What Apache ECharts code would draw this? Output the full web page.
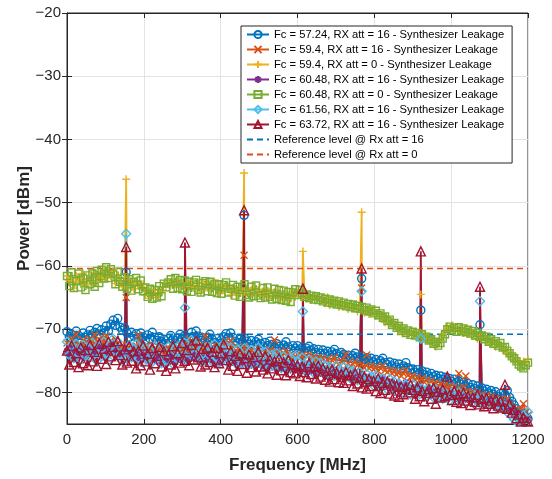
<!DOCTYPE html>
<html><head><meta charset="utf-8">
<script src="https://cdn.jsdelivr.net/npm/echarts@6/dist/echarts.min.js"></script>
<style>html,body{margin:0;padding:0;background:#fff}#c{width:552px;height:479px}</style>
</head><body><div id="c"></div>
<script>
// Frequency samples [MHz]
const freqs = [
0,6,12,18,24,30,36,42,48,54,
60,66,72,78,84,90,96,102,108,114,
120,126,132,138,144,150,156,162,168,174,
180,186,192,198,204,210,216,222,228,234,
240,246,252,258,264,270,276,282,288,294,
300,306,312,318,324,330,336,342,348,354,
360,366,372,378,384,390,396,402,408,414,
420,426,432,438,444,450,456,462,468,474,
480,486,492,498,504,510,516,522,528,534,
540,546,552,558,564,570,576,582,588,594,
600,606,612,618,624,630,636,642,648,654,
660,666,672,678,684,690,696,702,708,714,
720,726,732,738,744,750,756,762,768,774,
780,786,792,798,804,810,816,822,828,834,
840,846,852,858,864,870,876,882,888,894,
900,906,912,918,924,930,936,942,948,954,
960,966,972,978,984,990,996,1002,1008,1014,
1020,1026,1032,1038,1044,1050,1056,1062,1068,1074,
1080,1086,1092,1098,1104,1110,1116,1122,1128,1134,
1140,1146,1152,1158,1164,1170,1176,1182,1188,1194,
1200];

const names = [
  'Fc = 57.24, RX att = 16 - Synthesizer Leakage',
  'Fc = 59.4, RX att = 16 - Synthesizer Leakage',
  'Fc = 59.4, RX att = 0 - Synthesizer Leakage',
  'Fc = 60.48, RX att = 16 - Synthesizer Leakage',
  'Fc = 60.48, RX att = 0 - Synthesizer Leakage',
  'Fc = 61.56, RX att = 16 - Synthesizer Leakage',
  'Fc = 63.72, RX att = 16 - Synthesizer Leakage',
  'Reference level @ Rx att = 16',
  'Reference level @ Rx att = 0'
];

// noise floors (dBm) at freqs
const fc5724_rx16 = [
-70.4,-71.2,-70.8,-71.6,-70.3,-71.0,-71.7,-70.6,-71.3,-70.9,
-70.2,-71.0,-70.5,-69.9,-70.8,-70.1,-70.6,-69.5,-70.3,-69.2,
-68.6,-69.4,-68.3,-69.7,-70.2,-69.8,-70.6,-71.3,-70.5,-71.1,
-70.7,-71.4,-70.6,-71.2,-71.8,-70.9,-71.5,-70.5,-71.3,-71.8,
-71.2,-72.0,-71.6,-72.3,-71.5,-71.0,-71.7,-72.2,-71.4,-70.8,
-71.6,-71.0,-71.9,-71.3,-70.5,-71.2,-70.3,-71.1,-71.8,-71.4,
-72.0,-71.3,-70.8,-71.6,-72.1,-71.5,-72.3,-71.7,-71.2,-70.7,
-71.4,-70.6,-71.3,-71.9,-72.2,-71.6,-72.0,-71.4,-71.9,-72.4,
-71.8,-72.5,-72.0,-71.6,-72.3,-72.8,-72.1,-72.6,-71.9,-72.4,
-72.9,-72.3,-72.7,-73.1,-72.5,-72.0,-72.8,-73.2,-72.6,-73.0,
-72.6,-73.3,-72.9,-73.5,-73.0,-72.7,-73.4,-73.1,-73.7,-73.2,
-73.8,-73.3,-73.9,-73.5,-74.1,-73.6,-73.2,-73.9,-74.3,-73.7,
-74.0,-74.5,-74.1,-74.6,-74.2,-73.8,-74.4,-74.7,-74.3,-74.8,
-74.5,-75.0,-74.6,-75.2,-74.8,-75.4,-75.0,-74.6,-75.3,-75.6,
-75.2,-75.8,-75.4,-76.0,-75.5,-76.2,-75.8,-75.3,-76.1,-76.4,
-76.3,-76.8,-76.4,-77.0,-76.6,-77.2,-76.8,-77.4,-77.0,-77.5,
-77.3,-77.8,-77.4,-78.0,-77.6,-78.2,-77.8,-78.3,-77.9,-78.5,
-78.2,-78.7,-78.4,-79.0,-78.6,-79.2,-78.8,-79.4,-79.0,-79.5,
-79.3,-79.8,-79.5,-80.1,-79.7,-80.3,-79.9,-80.6,-80.2,-80.9,
-80.4,-79.7,-80.8,-81.4,-82.0,-82.6,-83.1,-83.7,-83.3,-84.0,
-84.2];
const fc594_rx16 = [
-72.2,-72.9,-71.5,-72.6,-70.8,-72.4,-73.0,-71.7,-72.8,-72.1,
-71.6,-72.5,-70.9,-71.9,-72.7,-71.3,-72.2,-71.1,-72.6,-71.8,
-72.4,-71.6,-72.9,-73.3,-72.5,-73.1,-72.6,-73.4,-72.8,-73.2,
-72.7,-71.0,-72.2,-72.9,-73.4,-72.6,-73.3,-72.5,-73.1,-73.7,
-72.9,-73.6,-73.1,-73.8,-73.0,-72.4,-73.2,-73.7,-72.9,-72.5,
-73.1,-72.4,-73.3,-71.6,-72.6,-72.9,-72.0,-72.7,-73.4,-72.8,
-71.1,-72.5,-73.2,-72.8,-73.5,-72.7,-73.6,-73.0,-72.6,-71.9,
-72.5,-71.8,-72.9,-73.4,-73.7,-73.1,-73.6,-72.8,-73.3,-73.8,
-73.2,-73.9,-73.4,-73.0,-73.7,-74.1,-73.5,-73.9,-73.3,-73.8,
-71.7,-73.6,-74.0,-74.4,-73.8,-73.4,-74.2,-74.6,-74.0,-74.3,
-74.0,-74.6,-74.2,-74.8,-74.3,-74.0,-74.7,-74.4,-75.0,-74.5,
-75.0,-74.6,-75.2,-74.8,-75.4,-74.9,-74.5,-75.2,-75.6,-75.0,
-75.3,-74.0,-75.4,-75.9,-75.5,-75.1,-75.7,-76.0,-75.6,-76.1,
-74.1,-76.2,-75.8,-76.4,-76.0,-76.6,-76.2,-75.8,-76.5,-76.8,
-76.4,-77.0,-76.6,-77.2,-76.7,-77.4,-77.0,-76.5,-77.3,-77.6,
-77.5,-78.0,-77.6,-78.2,-77.8,-78.4,-78.0,-78.6,-78.2,-78.7,
-78.5,-79.0,-78.6,-79.2,-78.8,-79.4,-79.0,-79.5,-79.1,-79.6,
-77.0,-79.6,-79.2,-77.4,-79.8,-80.3,-79.9,-80.5,-80.1,-80.6,
-80.4,-80.9,-80.5,-81.1,-80.7,-81.3,-80.9,-81.5,-81.1,-81.8,
-81.5,-81.0,-81.9,-82.4,-82.9,-83.4,-83.8,-82.6,-81.8,-83.2,
-83.6];
const fc594_rx0 = [
-61.6,-62.3,-62.0,-63.5,-61.5,-62.4,-62.7,-61.2,-63.0,-62.4,
-61.8,-62.9,-61.1,-62.5,-61.4,-62.1,-60.9,-61.9,-60.7,-61.6,
-60.9,-62.8,-61.5,-62.5,-63.3,-61.8,-63.5,-62.2,-62.7,-63.6,
-62.6,-62.8,-63.3,-62.9,-64.6,-63.8,-65.1,-64.2,-63.8,-65.0,
-64.3,-63.8,-62.8,-63.4,-62.7,-63.1,-62.5,-62.9,-62.4,-63.3,
-62.7,-63.4,-62.9,-63.3,-62.4,-63.5,-63.2,-62.7,-64.1,-62.8,
-63.4,-62.6,-63.7,-63.1,-62.5,-63.4,-64.4,-63.0,-63.8,-63.5,
-63.3,-64.6,-64.0,-63.7,-64.5,-63.6,-64.3,-64.1,-63.6,-64.0,
-64.5,-63.5,-64.4,-63.8,-64.3,-64.7,-63.6,-65.0,-64.1,-64.3,
-64.6,-64.2,-65.1,-64.5,-65.3,-64.2,-65.4,-64.8,-64.0,-64.9,
-64.2,-64.4,-65.0,-64.3,-65.2,-64.6,-65.4,-64.8,-65.0,-64.9,
-65.4,-65.1,-65.9,-65.0,-66.2,-65.4,-65.8,-65.7,-66.5,-65.8,
-66.2,-66.0,-66.8,-66.1,-66.7,-66.3,-67.2,-66.6,-66.9,-67.4,
-66.9,-67.6,-67.2,-67.1,-67.9,-67.4,-68.3,-67.8,-68.9,-68.4,
-69.1,-68.8,-69.6,-69.3,-70.2,-69.7,-70.6,-70.1,-70.9,-70.3,
-70.8,-70.5,-71.2,-70.6,-71.4,-70.9,-71.6,-71.3,-72.2,-71.5,
-72.8,-72.2,-71.7,-70.9,-70.4,-69.6,-69.9,-69.4,-70.3,-69.8,
-70.2,-69.8,-70.6,-69.9,-70.8,-70.2,-71.1,-70.4,-71.5,-70.8,
-71.5,-71.0,-71.9,-71.5,-72.4,-71.7,-72.8,-72.1,-72.6,-73.3,
-73.2,-73.6,-74.1,-74.0,-74.9,-74.5,-75.3,-75.6,-75.1,-75.4,
-74.8];
const fc6048_rx16 = [
-73.5,-74.2,-73.0,-74.4,-73.6,-74.0,-73.2,-74.3,-73.7,-73.1,
-73.9,-73.3,-74.1,-73.5,-72.8,-73.6,-73.0,-73.8,-73.2,-72.7,
-73.4,-72.9,-73.7,-74.1,-73.6,-74.0,-73.5,-74.3,-73.8,-74.2,
-73.9,-74.5,-74.0,-74.4,-74.8,-74.2,-74.6,-74.1,-74.7,-75.0,
-74.5,-75.1,-74.7,-75.3,-74.6,-74.2,-74.8,-75.2,-74.6,-74.3,
-74.9,-74.4,-75.0,-74.6,-74.0,-74.7,-74.2,-74.8,-75.1,-74.7,
-75.2,-74.6,-74.3,-74.9,-75.3,-74.8,-75.4,-74.9,-74.5,-74.2,
-74.8,-74.3,-74.9,-75.3,-75.6,-75.0,-75.4,-74.9,-75.3,-75.7,
-75.2,-75.8,-75.4,-75.0,-75.6,-76.0,-75.5,-75.9,-75.3,-75.8,
-76.1,-75.6,-75.9,-76.3,-75.8,-75.4,-76.0,-76.4,-75.9,-76.2,
-75.9,-76.5,-76.1,-76.7,-76.2,-75.9,-76.6,-76.3,-76.9,-76.4,
-76.9,-76.5,-77.1,-76.7,-77.3,-76.8,-76.4,-77.1,-77.5,-76.9,
-77.2,-77.6,-77.3,-77.8,-77.4,-77.0,-77.6,-77.9,-77.5,-78.0,
-77.7,-78.2,-77.8,-78.4,-78.0,-78.6,-78.2,-77.8,-78.5,-78.8,
-78.4,-79.0,-78.6,-79.2,-78.7,-79.4,-79.0,-78.5,-79.3,-79.6,
-79.3,-79.7,-79.4,-79.9,-79.5,-80.0,-79.6,-80.1,-79.7,-80.2,
-79.9,-80.3,-80.0,-80.5,-80.1,-80.6,-80.2,-80.7,-80.3,-80.8,
-80.5,-80.9,-80.6,-81.1,-80.7,-81.2,-80.8,-81.3,-80.9,-81.4,
-81.1,-81.5,-81.2,-81.7,-81.3,-81.8,-81.4,-81.9,-81.6,-82.1,
-81.8,-82.3,-82.6,-83.0,-83.4,-83.8,-84.1,-83.6,-83.9,-84.2,
-84.0];
const fc6048_rx0 = [
-61.6,-63.2,-61.0,-63.5,-62.4,-61.2,-63.4,-62.0,-63.8,-61.5,
-62.9,-61.2,-63.3,-60.8,-62.7,-60.6,-62.0,-60.2,-61.9,-60.5,
-61.2,-62.9,-60.9,-62.5,-63.3,-61.8,-63.6,-62.1,-63.9,-62.5,
-61.9,-63.7,-62.3,-64.0,-63.4,-64.9,-63.6,-65.2,-63.8,-65.0,
-63.2,-64.8,-62.8,-63.4,-62.6,-62.1,-63.6,-61.9,-63.5,-62.2,
-63.7,-62.3,-64.0,-62.5,-64.1,-62.6,-62.2,-63.8,-64.2,-62.7,
-62.4,-64.0,-62.5,-64.1,-62.8,-64.3,-62.9,-64.4,-63.0,-62.6,
-64.2,-63.6,-63.0,-64.7,-63.3,-64.9,-63.4,-62.9,-64.6,-65.0,
-63.3,-64.8,-63.1,-64.7,-65.1,-63.5,-65.0,-63.4,-64.9,-65.3,
-63.6,-65.2,-63.8,-65.4,-63.9,-65.5,-64.1,-65.7,-64.2,-63.7,
-64.6,-63.8,-64.3,-64.9,-64.5,-65.1,-64.7,-65.3,-64.8,-65.4,
-65.0,-65.6,-65.2,-65.8,-65.3,-65.9,-65.5,-66.1,-65.6,-66.2,
-65.8,-66.4,-66.0,-66.5,-66.1,-66.7,-66.3,-66.8,-66.5,-67.0,
-66.6,-67.2,-66.9,-67.5,-67.1,-67.8,-67.5,-68.2,-68.0,-68.7,
-68.5,-69.3,-69.0,-69.8,-69.5,-70.3,-69.9,-70.6,-70.2,-70.9,
-70.4,-71.0,-70.6,-71.3,-70.8,-71.5,-71.2,-71.8,-71.6,-72.3,
-72.0,-72.6,-72.2,-71.5,-70.8,-70.0,-69.6,-70.2,-69.8,-70.4,
-69.7,-70.3,-69.9,-70.5,-70.1,-70.7,-70.3,-71.0,-70.6,-71.2,
-71.0,-71.6,-71.2,-72.0,-71.6,-72.3,-71.9,-72.6,-72.2,-72.9,
-72.8,-73.4,-73.8,-74.3,-74.6,-75.1,-75.6,-75.9,-76.2,-75.7,
-75.3];
const fc6156_rx16 = [
-72.0,-74.1,-72.6,-74.6,-72.3,-73.9,-74.8,-72.5,-74.2,-73.0,
-74.4,-72.2,-73.7,-75.0,-72.8,-74.3,-72.0,-73.8,-74.9,-72.4,
-71.5,-73.4,-72.0,-74.1,-75.0,-73.3,-74.7,-72.6,-74.5,-73.1,
-72.4,-74.6,-73.0,-75.3,-72.9,-74.8,-73.4,-75.2,-72.7,-74.4,
-73.1,-75.4,-73.6,-75.0,-72.8,-74.2,-75.5,-73.0,-74.6,-72.5,
-74.3,-72.2,-74.8,-73.4,-71.7,-73.9,-72.6,-74.5,-75.0,-73.2,
-74.9,-72.8,-73.5,-75.1,-72.4,-74.6,-75.3,-73.1,-72.3,-74.0,
-75.4,-72.9,-74.1,-75.3,-73.2,-74.8,-75.5,-73.0,-74.4,-75.6,
-73.3,-75.5,-74.0,-72.9,-75.2,-75.8,-73.6,-74.9,-76.0,-74.1,
-75.7,-73.8,-74.6,-76.2,-74.3,-75.4,-76.3,-74.5,-75.9,-74.2,
-75.0,-76.4,-74.5,-75.8,-76.6,-74.8,-75.6,-76.9,-75.1,-76.3,
-75.3,-76.8,-75.7,-77.0,-75.9,-76.5,-77.4,-75.8,-76.7,-77.1,
-76.0,-77.5,-76.3,-77.8,-76.6,-77.2,-78.1,-76.8,-77.6,-78.3,
-77.1,-78.2,-77.5,-78.9,-77.3,-78.6,-79.2,-77.8,-78.7,-79.5,
-77.9,-79.4,-78.3,-79.9,-78.6,-79.6,-80.1,-78.8,-79.5,-80.3,
-78.7,-79.8,-79.1,-80.3,-79.4,-80.0,-80.6,-79.3,-80.2,-80.8,
-79.5,-80.7,-79.8,-81.0,-80.1,-80.9,-81.3,-80.0,-80.6,-81.2,
-80.0,-81.3,-80.4,-81.5,-80.7,-81.1,-81.6,-80.5,-81.2,-81.7,
-80.9,-81.8,-81.2,-82.0,-81.4,-81.9,-82.3,-81.5,-82.1,-82.6,
-82.2,-83.1,-82.7,-83.8,-84.3,-84.6,-84.0,-84.5,-83.7,-84.2,
-83.1];
const fc6372_rx16 = [
-73.4,-75.6,-72.6,-75.2,-73.8,-76.0,-72.9,-75.4,-73.3,-75.7,
-72.5,-75.1,-73.6,-75.8,-72.3,-74.7,-73.1,-75.5,-72.0,-74.3,
-72.8,-74.9,-71.9,-74.1,-75.6,-73.2,-75.3,-72.7,-75.0,-73.5,
-76.2,-73.4,-75.7,-72.6,-75.1,-73.9,-76.4,-73.0,-75.4,-74.2,
-72.8,-75.9,-73.5,-76.6,-74.0,-75.6,-72.7,-76.2,-73.8,-75.3,
-72.2,-75.0,-73.3,-75.7,-72.5,-74.8,-71.8,-74.4,-75.9,-73.1,
-75.6,-72.9,-75.2,-73.6,-76.0,-73.0,-75.4,-73.8,-72.4,-74.9,
-76.4,-73.5,-75.8,-74.2,-76.6,-73.9,-75.5,-74.6,-76.9,-74.0,
-76.0,-74.4,-76.7,-73.6,-75.9,-76.4,-74.3,-77.0,-74.8,-76.2,
-75.1,-77.2,-74.6,-76.5,-75.3,-77.3,-74.9,-76.8,-75.5,-77.0,
-75.7,-77.4,-75.9,-76.8,-77.6,-75.4,-77.1,-76.0,-77.8,-75.8,
-77.5,-76.2,-78.0,-76.6,-78.3,-76.4,-77.9,-76.9,-78.4,-77.1,
-78.5,-76.8,-78.1,-77.3,-79.0,-77.0,-78.6,-77.7,-79.2,-77.5,
-79.4,-77.9,-79.0,-78.2,-79.8,-77.8,-80.1,-78.5,-79.6,-78.3,
-80.2,-78.6,-80.5,-78.9,-80.7,-79.1,-80.3,-79.4,-80.0,-78.8,
-79.6,-81.0,-79.2,-80.6,-79.8,-81.4,-80.1,-79.5,-81.0,-79.3,
-81.8,-79.9,-80.8,-79.5,-80.6,-77.5,-80.4,-81.2,-79.8,-81.5,
-80.3,-81.7,-80.1,-81.3,-80.6,-82.0,-80.8,-81.5,-80.4,-81.9,
-81.0,-82.2,-80.9,-81.8,-81.3,-82.5,-81.1,-82.1,-81.4,-82.4,
-78.8,-82.6,-81.9,-83.2,-82.8,-84.1,-83.5,-84.6,-84.0,-84.5,
-84.6];

// leakage spurs [MHz, dBm]
const spurs5724_16 = [[154,-61.0],[461,-52.0],[767,-62.0],[921,-67.0],[1075,-69.3]];
const spurs594_16  = [[154,-65.0],[461,-58.3],[767,-63.5]];
const spurs594_0   = [[154,-46.3],[461,-45.3],[614,-57.7],[767,-51.5],[921,-64.5]];
const spurs6048_16 = [];
const spurs6048_0  = [];
const spurs6156_16 = [[154,-54.9],[307,-66.6],[614,-67.2],[767,-64.0],[921,-71.5],[1075,-65.6]];
const spurs6372_16 = [[154,-57.0],[307,-56.3],[461,-51.2],[614,-63.6],[767,-60.4],[921,-57.7],[1075,-63.3]];

const refLevels = [-70.8, -60.4];
const yTicks = [-80,-70,-60,-50,-40,-30,-20];

function build(vals, spurs){
  if (vals.length !== freqs.length) console.error('length mismatch', vals.length, freqs.length);
  const pts = freqs.map((f,i)=>[f, vals[i]]);
  spurs.forEach(s=>pts.push([s[0], s[1]]));
  pts.sort((a,b)=>a[0]-b[0]);
  return pts;
}
const SYM_X = 'path://M0,0L10,10M10,0L0,10';
const SYM_PLUS = 'path://M5,0L5,10M0,5L10,5';
const SYM_AST = 'path://M5,0L5,10M0,5L10,5M1.5,1.5L8.5,8.5M8.5,1.5L1.5,8.5';
const FONT = 'Liberation Sans, Arial, sans-serif';

function mk(name, color, symbol, size, vals, spurs){
  return {
    name, type:'line', data: build(vals, spurs), color,
    symbol, symbolSize: size, showSymbol: true, showAllSymbol: true,
    lineStyle:{color, width:1.8},
    itemStyle:{color:'rgba(0,0,0,0)', borderColor:color, borderWidth:1.4},
    emphasis:{disabled:true}, silent:true, animation:false, clip:true
  };
}
function ref(name, color, v){
  return {
    name, type:'line', data:[[0,v],[1200,v]], color, symbol:'none',
    lineStyle:{color, width:1.5, type:[6,4]}, itemStyle:{color},
    emphasis:{disabled:true}, silent:true, animation:false
  };
}
const minus = v => String(v).replace('-', '\u2212');

const legendData = names.map((n, i) => i < 7 ? {name: n} :
  {name: n, itemStyle:{color:'rgba(0,0,0,0)', borderColor:'rgba(0,0,0,0)', borderWidth:0}});

const tickStyle = {color:'#262626', width:1};
const chart = echarts.init(document.getElementById('c'));
chart.setOption({
  backgroundColor:'#fff',
  animation:false,
  grid:{left:67, right:24, top:13, bottom:54, show:true, borderColor:'#262626', borderWidth:1, backgroundColor:'rgba(0,0,0,0)'},
  legend:{
    orient:'vertical', left:241, top:26, selectedMode:false,
    itemWidth:22, itemHeight:9, itemGap:4,
    padding:[3,8,3,5], backgroundColor:'#fff', borderColor:'#262626', borderWidth:1, borderRadius:0,
    textStyle:{fontSize:11.2, fontFamily:FONT, color:'#000', lineHeight:11},
    data: legendData
  },
  xAxis:[{
    type:'value', min:0, max:1200, interval:200,
    name:'Frequency [MHz]', nameLocation:'middle', nameGap:33, nameMoveOverlap:false,
    nameTextStyle:{fontSize:17, fontWeight:'bold', color:'#262626', fontFamily:FONT},
    axisLine:{show:true, lineStyle:tickStyle},
    axisTick:{show:true, inside:true, length:5, lineStyle:tickStyle},
    axisLabel:{fontSize:15, color:'#262626', margin:8, fontFamily:FONT, formatter: v => String(v)},
    splitLine:{show:true, lineStyle:{color:'#e3e3e3', width:1}}
  },{
    type:'value', min:0, max:1200, interval:200, position:'top',
    axisLine:{show:true, lineStyle:tickStyle},
    axisTick:{show:true, inside:true, length:5, lineStyle:tickStyle},
    axisLabel:{show:false}, splitLine:{show:false}
  }],
  yAxis:[{
    type:'value', min:-85, max:-20,
    name:'Power [dBm]', nameLocation:'middle', nameGap:34, nameMoveOverlap:false,
    nameTextStyle:{fontSize:17, fontWeight:'bold', color:'#262626', fontFamily:FONT},
    axisLine:{show:true, lineStyle:tickStyle},
    axisTick:{show:true, inside:true, length:5, lineStyle:tickStyle, customValues: yTicks},
    axisLabel:{fontSize:15, color:'#262626', margin:6, fontFamily:FONT, customValues: yTicks, formatter: minus},
    splitLine:{show:true, lineStyle:{color:'#e3e3e3', width:1}}
  },{
    type:'value', min:-85, max:-20, position:'right',
    axisLine:{show:true, lineStyle:tickStyle},
    axisTick:{show:true, inside:true, length:5, lineStyle:tickStyle, customValues: yTicks},
    axisLabel:{show:false, customValues: yTicks}, splitLine:{show:false}
  }],
  series:[
    mk(names[0], '#0072BD', 'circle', 8, fc5724_rx16, spurs5724_16),
    mk(names[1], '#D95319', SYM_X, 7, fc594_rx16, spurs594_16),
    mk(names[2], '#EDB120', SYM_PLUS, 8, fc594_rx0, spurs594_0),
    mk(names[3], '#7E2F8E', SYM_AST, 8, fc6048_rx16, spurs6048_16),
    mk(names[4], '#77AC30', 'rect', 7, fc6048_rx0, spurs6048_0),
    mk(names[5], '#4DBEEE', 'diamond', 9, fc6156_rx16, spurs6156_16),
    mk(names[6], '#A2142F', 'triangle', 9, fc6372_rx16, spurs6372_16),
    ref(names[7], '#0072BD', refLevels[0]),
    ref(names[8], '#D95319', refLevels[1])
  ]
});
</script></body></html>
